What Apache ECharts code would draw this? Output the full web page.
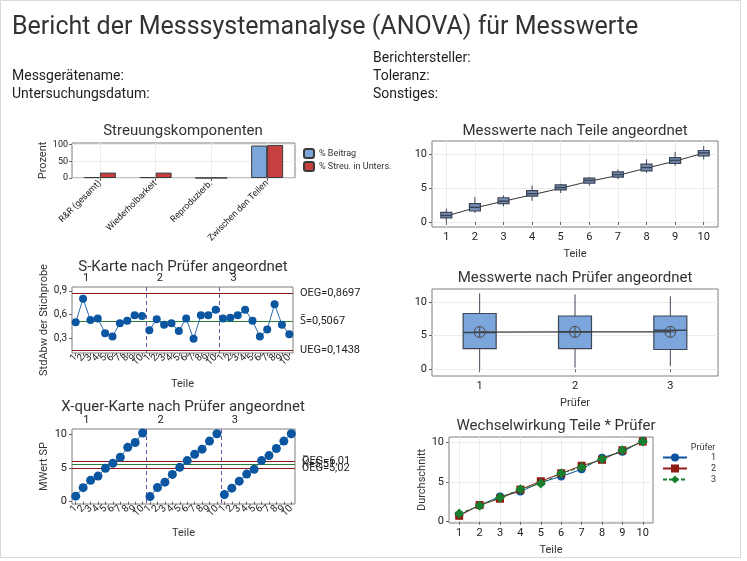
<!DOCTYPE html>
<html><head><meta charset="utf-8">
<script src="https://cdn.jsdelivr.net/npm/echarts@6/dist/echarts.min.js"></script>
<style>html,body{margin:0;padding:0;background:#fff}#c{width:747px;height:561px}</style>
</head><body><div id="c"></div>
<script>
// ---------- data ----------
const components = ['R&R (gesamt)', 'Wiederholbarkeit', 'Reproduzierb.', 'Zwischen den Teilen'];
const pctContribution = [2.6, 2.6, 0.0, 97.4];
const pctStudyVar = [16.1, 16.1, 0.6, 98.7];

const parts = ['1','2','3','4','5','6','7','8','9','10'];
// [min, Q1, median, Q3, max] per part
const partBoxes = [
  [0.0, 0.6, 0.95, 1.4, 1.95],
  [1.35, 1.6, 2.15, 2.7, 3.65],
  [2.3, 2.7, 3.05, 3.55, 3.9],
  [3.1, 3.8, 4.15, 4.6, 5.35],
  [4.25, 4.7, 5.05, 5.45, 5.6],
  [5.35, 5.7, 6.1, 6.45, 6.6],
  [6.3, 6.6, 6.95, 7.35, 7.7],
  [7.2, 7.5, 8.0, 8.5, 9.2],
  [8.25, 8.6, 9.05, 9.45, 10.3],
  [9.2, 9.7, 10.15, 10.5, 11.15]
];
const partMeans = [0.87, 2.06, 3.04, 3.98, 4.95, 5.97, 6.83, 7.92, 8.93, 10.13];

const operators = ['1','2','3'];
const operatorBoxes = [
  [0.0, 3.07, 5.45, 8.27, 11.25],
  [0.25, 3.05, 5.55, 7.9, 11.1],
  [0.45, 2.93, 5.8, 7.9, 10.8]
];
const operatorMeans = [5.52, 5.55, 5.55];

// sample std dev per part, for operator 1, 2, 3
const sOp1 = [0.50, 0.80, 0.53, 0.55, 0.36, 0.32, 0.49, 0.52, 0.59, 0.58];
const sOp2 = [0.40, 0.54, 0.47, 0.49, 0.39, 0.55, 0.29, 0.59, 0.59, 0.66];
const sOp3 = [0.55, 0.56, 0.59, 0.66, 0.52, 0.32, 0.41, 0.73, 0.47, 0.35];
const sLimits = [0.8697, 0.5067, 0.1438];     // OEG, S-quer, UEG
const sLimitLabels = ['OEG=0,8697', 'S\u0304=0,5067', 'UEG=0,1438'];

// sample means per part, for operator 1, 2, 3
const meanOp1 = [0.82, 2.08, 3.17, 3.80, 4.95, 5.70, 6.60, 8.07, 8.80, 10.20];
const meanOp2 = [0.75, 2.10, 2.90, 4.05, 5.10, 6.10, 7.05, 7.80, 9.00, 10.10];
const meanOp3 = [1.05, 2.00, 3.05, 4.10, 4.80, 6.10, 6.85, 7.90, 9.00, 10.10];
const xbarLimits = [6.01, 5.51, 5.02];         // OEG, X-quer-quer, UEG
const xbarLimitLabels = ['OEG=6,01', 'X\u033F=5,51', 'UEG=5,02'];

const sampleTickLabels = parts.concat(parts, parts);
const groupLabels = ['', '1', '', '', '', '', '', '', '', '', '', '2', '', '', '', '', '', '', '', '', '', '3', '', '', '', '', '', '', '', ''];
const groupBoundaries = [9, 19];

// ---------- style ----------
const FONT = 'Roboto, "Noto Sans", sans-serif';
const frame = '#7f7f7f', gridC = '#ececec', txt = '#222';
const ctrlRed = '#8b1a1a', ctrlGreen = '#2a7f32', divider = '#6f4fa8';
const dotBlue = '#0b56a0';

function comma(v){ return String(v).replace('.', ','); }
// put one operator's 10 values into its slot of the 30-sample axis (gaps elsewhere)
function slot(values, g){
  const out = [];
  for (let i = 0; i < 30; i++) out.push(Math.floor(i / 10) === g ? values[i % 10] : '-');
  return out;
}

function gridDef(l, t, w, h){ return {left:l, top:t, width:w, height:h, show:true, borderColor:frame, borderWidth:1, backgroundColor:'#fff', containLabel:false}; }

function catAxis(gi, data, o){
  return Object.assign({
    type:'category', gridIndex:gi, data:data, boundaryGap:true,
    axisLine:{show:false}, axisTick:{show:true, alignWithLabel:true, length:3, lineStyle:{color:'#666'}},
    axisLabel:{color:txt, fontSize:11, fontFamily:FONT, interval:0, margin:5},
    splitLine:{show:false},
    nameLocation:'middle', nameTextStyle:{color:'#333', fontSize:11, fontFamily:FONT}
  }, o || {});
}
function valAxis(gi, min, max, ticks, o){
  return Object.assign({
    type:'value', gridIndex:gi, min:min, max:max,
    axisLine:{show:false}, axisTick:{show:true, length:3, customValues:ticks, lineStyle:{color:'#666'}},
    axisLabel:{color:txt, fontSize:11, fontFamily:FONT, customValues:ticks, margin:5, formatter:comma},
    splitLine:{show:false},
    nameLocation:'middle', nameRotate:90, nameTextStyle:{color:'#333', fontSize:11, fontFamily:FONT}
  }, o || {});
}

function boxRender(boxW, fill, stroke){
  return function(params, api){
    const x = api.value(0);
    const lo = api.coord([x, api.value(1)]);
    const q1 = api.coord([x, api.value(2)]);
    const md = api.coord([x, api.value(3)]);
    const q3 = api.coord([x, api.value(4)]);
    const hi = api.coord([x, api.value(5)]);
    const cx = lo[0];
    return {type:'group', children:[
      {type:'line', shape:{x1:cx, y1:hi[1], x2:cx, y2:q3[1]}, style:{stroke:stroke, lineWidth:1}},
      {type:'line', shape:{x1:cx, y1:q1[1], x2:cx, y2:lo[1]}, style:{stroke:stroke, lineWidth:1}},
      {type:'rect', shape:{x:cx-boxW/2, y:q3[1], width:boxW, height:q1[1]-q3[1]}, style:{fill:fill, stroke:stroke, lineWidth:1.2}},
      {type:'line', shape:{x1:cx-boxW/2, y1:md[1], x2:cx+boxW/2, y2:md[1]}, style:{stroke:stroke, lineWidth:1.5}}
    ]};
  };
}
function dividerRender(params, api){
  const idx = api.value(0);
  const p = api.coord([idx, 0]);
  const band = api.size([1, 0])[0];
  const cs = params.coordSys;
  const x = Math.round(p[0] + band/2) + 0.5;
  return {type:'line', shape:{x1:x, y1:cs.y, x2:x, y2:cs.y+cs.height}, style:{stroke:divider, lineWidth:1, lineDash:[4,3]}};
}
function limitLines(values, labels){
  return {
    symbol:['none','none'], silent:true,
    label:{position:'end', distance:7, color:txt, fontSize:11, fontFamily:FONT},
    data: values.map((v, i) => ({yAxis:v, label:{formatter:labels[i]}, lineStyle:{color: i===1 ? ctrlGreen : ctrlRed, width:1.2, type:'solid'}}))
  };
}
const meanSymbol = 'path://M0,-5A5,5 0 1,1 0,5A5,5 0 1,1 0,-5ZM-5,0L5,0M0,-5L0,5';

function headerText(x, y, t, size, align, color){
  return {type:'text', x:x, y:y, silent:true, style:{text:t, fill:color||'#333', font:'normal '+size+'px '+FONT, textAlign:align||'left', textVerticalAlign:'middle'}};
}
function chartLine(values, g, xi, yi, size, extra){
  return Object.assign({type:'line', xAxisIndex:xi, yAxisIndex:yi, data:slot(values, g), symbol:'circle', symbolSize:size,
    itemStyle:{color:dotBlue}, lineStyle:{color:'#2a6aad', width:1}, z:5, silent:true, connectNulls:false}, extra || {});
}

const option = {
  animation:false,
  textStyle:{fontFamily:FONT},
  graphic:[
    {type:'rect', silent:true, shape:{x:0.5, y:0.5, width:740, height:557}, style:{fill:'none', stroke:'#d9d9d9', lineWidth:1}},
    headerText(12, 28, 'Bericht der Messsystemanalyse (ANOVA) für Messwerte', 25),
    headerText(12, 76, 'Messgerätename:', 14, 'left', '#1e1e1e'),
    headerText(12, 94, 'Untersuchungsdatum:', 14, 'left', '#1e1e1e'),
    headerText(373, 58, 'Berichtersteller:', 14, 'left', '#1e1e1e'),
    headerText(373, 76, 'Toleranz:', 14, 'left', '#1e1e1e'),
    headerText(373, 94, 'Sonstiges:', 14, 'left', '#1e1e1e'),
    headerText(183, 131, 'Streuungskomponenten', 15, 'center'),
    headerText(575, 131, 'Messwerte nach Teile angeordnet', 15, 'center'),
    headerText(183, 267, 'S-Karte nach Prüfer angeordnet', 15, 'center'),
    headerText(575, 278, 'Messwerte nach Prüfer angeordnet', 15, 'center'),
    headerText(183, 407, 'X-quer-Karte nach Prüfer angeordnet', 15, 'center'),
    headerText(556, 426, 'Wechselwirkung Teile * Prüfer', 15, 'center'),
    {type:'text', x:703, y:448, silent:true, style:{text:'Prüfer', fill:'#333', font:'normal 9px '+FONT, textAlign:'center', textVerticalAlign:'middle'}}
  ],
  legend:[
    {data:['% Beitrag', '% Streu. in Unters.'], orient:'vertical', left:303, top:148, padding:0,
     itemWidth:10, itemHeight:9, itemGap:2, textStyle:{fontSize:9, color:'#333', fontFamily:FONT}, selectedMode:false},
    {data:['1','2','3'], orient:'vertical', left:662, top:453, padding:0,
     itemWidth:24, itemHeight:10, itemGap:2, selectedMode:false,
     formatter:'{a|{name}}', textStyle:{fontSize:9, color:'#333', fontFamily:FONT, rich:{a:{width:24, align:'right', fontSize:9}}}}
  ],
  grid:[
    gridDef(72, 143, 223, 35),
    gridDef(432, 141, 286, 86),
    gridDef(72, 287, 221, 66),
    gridDef(432, 289, 286, 87),
    gridDef(72, 429, 223, 75),
    gridDef(449, 437, 204, 86)
  ],
  xAxis:[
    catAxis(0, components, {axisLabel:{color:txt, fontSize:9, fontFamily:FONT, interval:0, rotate:45, margin:4}, splitLine:{show:true, alignWithLabel:true, lineStyle:{color:gridC}}}),
    catAxis(1, parts, {name:'Teile', nameGap:22, splitLine:{show:true, alignWithLabel:true, lineStyle:{color:gridC}}}),
    catAxis(2, sampleTickLabels, {name:'Teile', nameGap:26, axisLabel:{color:txt, fontSize:10, fontFamily:FONT, interval:0, rotate:45, margin:3}}),
    catAxis(2, groupLabels, {position:'top', axisTick:{show:false}, axisLabel:{color:txt, fontSize:11, fontFamily:FONT, interval:0, margin:3, align:'left'}}),
    catAxis(3, operators, {name:'Prüfer', nameGap:22}),
    catAxis(4, sampleTickLabels, {name:'Teile', nameGap:24, axisLabel:{color:txt, fontSize:10, fontFamily:FONT, interval:0, rotate:45, margin:3}}),
    catAxis(4, groupLabels, {position:'top', axisTick:{show:false}, axisLabel:{color:txt, fontSize:11, fontFamily:FONT, interval:0, margin:3, align:'left'}}),
    catAxis(5, parts, {name:'Teile', nameGap:22, splitLine:{show:true, alignWithLabel:true, lineStyle:{color:gridC}}})
  ],
  yAxis:[
    valAxis(0, 0, 105, [0,50,100], {name:'Prozent', nameGap:22, axisLabel:{color:txt, fontSize:9, fontFamily:FONT, customValues:[0,50,100], margin:4}, splitLine:{show:true, lineStyle:{color:gridC}}}),
    valAxis(1, -0.75, 11.9, [0,5,10], {splitLine:{show:true, lineStyle:{color:gridC}}}),
    valAxis(2, 0.11, 0.95, [0.3,0.6,0.9], {name:'StdAbw der Stichprobe', nameGap:22, axisLabel:{color:txt, fontSize:10, fontFamily:FONT, customValues:[0.3,0.6,0.9], margin:5, formatter:comma}}),
    valAxis(3, -1, 11.9, [0,5,10], {splitLine:{show:true, lineStyle:{color:gridC}}}),
    valAxis(4, -0.35, 10.8, [0,5,10], {name:'MWert SP', nameGap:22}),
    valAxis(5, -0.16, 10.67, [0,5,10], {name:'Durchschnitt', nameGap:16, splitLine:{show:true, lineStyle:{color:gridC}}})
  ],
  series:[
    {name:'% Beitrag', type:'bar', xAxisIndex:0, yAxisIndex:0, data:pctContribution, barWidth:16, barGap:'0%',
     itemStyle:{color:'#7ba5db', borderColor:'#3a3a3a', borderWidth:1}},
    {name:'% Streu. in Unters.', type:'bar', xAxisIndex:0, yAxisIndex:0, data:pctStudyVar, barWidth:16, barGap:'0%',
     itemStyle:{color:'#c83f3f', borderColor:'#3a3a3a', borderWidth:1}},

    {type:'line', xAxisIndex:1, yAxisIndex:1, data:partMeans, symbol:'none', lineStyle:{color:'#333', width:1}, z:2, silent:true},
    {type:'custom', xAxisIndex:1, yAxisIndex:1, renderItem:boxRender(11, '#7a8fb3', '#3b4558'),
     encode:{x:0, y:[1,2,3,4,5]}, data:partBoxes.map((b, i) => [i].concat(b)), z:3, silent:true},

    chartLine(sOp1, 0, 2, 2, 8, {markLine:limitLines(sLimits, sLimitLabels)}),
    chartLine(sOp2, 1, 2, 2, 8),
    chartLine(sOp3, 2, 2, 2, 8),
    {type:'custom', xAxisIndex:2, yAxisIndex:2, renderItem:dividerRender, data:groupBoundaries.map(b => [b, 0.5]), silent:true, z:4},

    {type:'custom', xAxisIndex:4, yAxisIndex:3, renderItem:boxRender(33, '#7ba5db', '#3c4656'),
     encode:{x:0, y:[1,2,3,4,5]}, data:operatorBoxes.map((b, i) => [i].concat(b)), z:3, silent:true},
    {type:'line', xAxisIndex:4, yAxisIndex:3, data:operatorMeans, symbol:meanSymbol, symbolSize:11,
     itemStyle:{color:'rgba(0,0,0,0)', borderColor:'#4a4a4a', borderWidth:1}, lineStyle:{color:'#3a3a3a', width:1.2}, z:4, silent:true},

    chartLine(meanOp1, 0, 5, 4, 9, {markLine:limitLines(xbarLimits, xbarLimitLabels)}),
    chartLine(meanOp2, 1, 5, 4, 9),
    chartLine(meanOp3, 2, 5, 4, 9),
    {type:'custom', xAxisIndex:5, yAxisIndex:4, renderItem:dividerRender, data:groupBoundaries.map(b => [b, 5]), silent:true, z:4},

    {name:'1', type:'line', xAxisIndex:7, yAxisIndex:5, data:meanOp1, symbol:'circle', symbolSize:8,
     itemStyle:{color:'#0b539e'}, lineStyle:{color:'#0b539e', width:1}, z:5},
    {name:'2', type:'line', xAxisIndex:7, yAxisIndex:5, data:meanOp2, symbol:'rect', symbolSize:8,
     itemStyle:{color:'#8e1b13'}, lineStyle:{color:'#8e1b13', width:1}, z:6},
    {name:'3', type:'line', xAxisIndex:7, yAxisIndex:5, data:meanOp3, symbol:'diamond', symbolSize:10,
     itemStyle:{color:'#17802f'}, lineStyle:{color:'#17802f', width:1, type:[4,2]}, z:7}
  ]
};
const chart = echarts.init(document.getElementById('c'), null, {renderer:'canvas'});
chart.setOption(option);
</script>
</body></html>
